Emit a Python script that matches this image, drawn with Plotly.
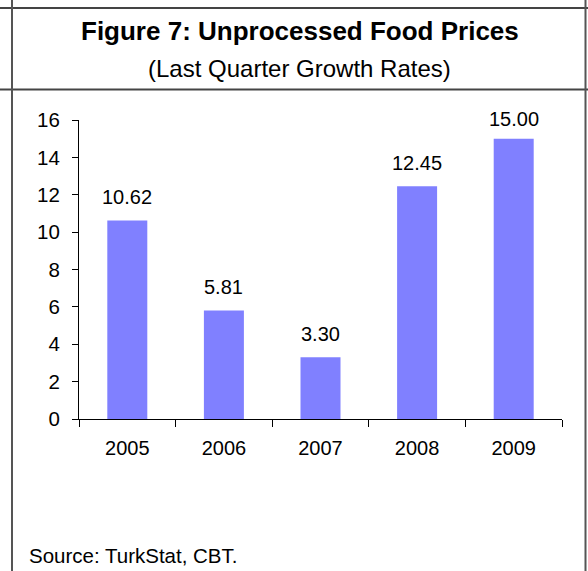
import plotly.graph_objects as go

years = ["2005", "2006", "2007", "2008", "2009"]
growth = [10.62, 5.81, 3.30, 12.45, 15.00]
labels = ["10.62", "5.81", "3.30", "12.45", "15.00"]

W, H = 588, 571
L, R, T, B = 79, 562, 120, 419
YMAX = 16
FONT = "Liberation Sans, Arial, sans-serif"
ppu = (B - T) / YMAX

def px(x):
    return (x - L) / (R - L)

def py(y):
    return (B - y) / (B - T)

fig = go.Figure()
fig.add_trace(go.Bar(
    x=years, y=growth,
    marker=dict(color="#8080FF", line=dict(width=0)),
    hoverinfo="x+y",
))

annotations = []
for i, (v, lab) in enumerate(zip(growth, labels)):
    shift = min(23.5, (YMAX - v) * ppu + 1)
    annotations.append(dict(
        x=i, y=v, xref="x", yref="y", text=lab, showarrow=False,
        yanchor="middle", yshift=shift,
        font=dict(family=FONT, size=20, color="#000000"),
    ))

annotations += [
    dict(x=px(300), y=py(31), xref="paper", yref="paper",
         text="<b>Figure 7: Unprocessed Food Prices</b>", showarrow=False,
         xanchor="center", yanchor="middle",
         font=dict(family=FONT, size=26, color="#000000")),
    dict(x=px(299), y=py(68.5), xref="paper", yref="paper",
         text="(Last Quarter Growth Rates)", showarrow=False,
         xanchor="center", yanchor="middle",
         font=dict(family=FONT, size=24, color="#000000")),
    dict(x=px(27), y=py(555), xref="paper", yref="paper",
         text="Source: TurkStat, CBT.", showarrow=False,
         xanchor="left", yanchor="middle",
         font=dict(family=FONT, size=20.5, color="#000000")),
]

frame_color = "#555555"
shapes = [
    dict(type="line", xref="paper", yref="paper",
         x0=px(0), x1=px(W), y0=py(8), y1=py(8),
         line=dict(color="#444444", width=2)),
    dict(type="line", xref="paper", yref="paper",
         x0=px(0), x1=px(W), y0=py(89.5), y1=py(89.5),
         line=dict(color="#444444", width=2)),
    dict(type="line", xref="paper", yref="paper",
         x0=px(12), x1=px(12), y0=py(0), y1=py(H),
         line=dict(color=frame_color, width=2)),
    dict(type="line", xref="paper", yref="paper",
         x0=px(585.5), x1=px(585.5), y0=py(0), y1=py(H),
         line=dict(color=frame_color, width=2)),
]

fig.update_layout(
    width=W, height=H,
    margin=dict(l=L, r=W - R, t=T, b=H - B, pad=0),
    paper_bgcolor="white", plot_bgcolor="white",
    showlegend=False,
    bargap=0.586,
    annotations=annotations,
    shapes=shapes,
    font=dict(family=FONT, size=20, color="#000000"),
)
fig.update_xaxes(
    type="category", range=[-0.5, 4.5], showgrid=False, showline=True,
    linecolor="#000000", linewidth=1,
    ticks="outside", tickson="boundaries", ticklen=7, tickcolor="#000000", tickwidth=1,
    tickfont=dict(family=FONT, size=20, color="#000000"), ticklabelstandoff=11,
    tickangle=0, zeroline=False,
)
fig.update_yaxes(
    range=[0, YMAX], tick0=0, dtick=2, showgrid=False, showline=True,
    linecolor="#000000", linewidth=1, ticks="outside", ticklen=6,
    tickcolor="#000000", tickwidth=1, zeroline=False,
    tickfont=dict(family=FONT, size=20.5, color="#000000"), ticklabelstandoff=8,
)

fig.write_html("out.html", config={"displayModeBar": False},
               post_script="document.body.style.margin='0';")
